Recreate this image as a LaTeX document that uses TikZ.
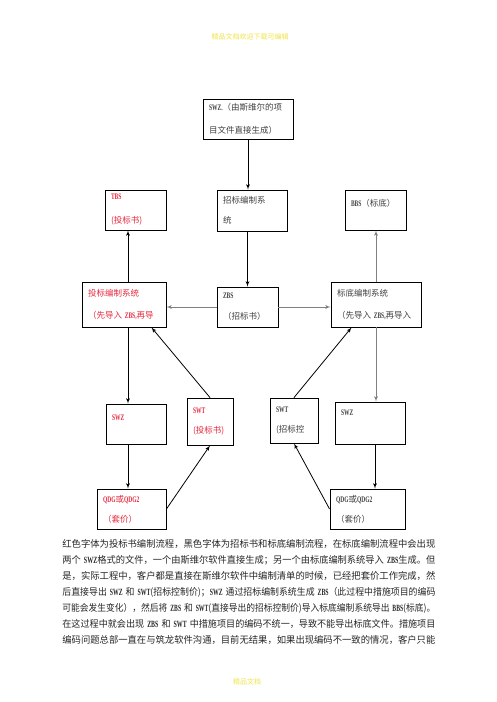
\documentclass[tikz,border=0pt]{standalone}
\usepackage{fontspec}
\setmainfont{Noto Sans CJK SC}
\newfontfamily\enfont{Liberation Serif}
\usetikzlibrary{arrows}

\definecolor{tbred}{RGB}{230,40,60}
\definecolor{hdyellow}{RGB}{238,228,70}
\newcommand{\enw}[1]{\scalebox{0.65}[1]{\enfont\bfseries #1}}
\newcommand{\boxfont}{\fontsize{8.5}{11}\selectfont}
\newcommand{\fitline}[1]{\resizebox{373pt}{\height}{#1}}

\begin{document}
\begin{tikzpicture}[
                        x=1pt, y=-1pt,
                        ->,
                        >=latex',
                        line width=0.8pt
                    ]
                    \tikzstyle{box}=[draw=black,line width=0.9pt,rectangle,inner xsep=6pt,inner ysep=0pt,align=left,font=\boxfont]
                    \tikzstyle{redbox}=[box,text=tbred]
                    \tikzstyle{blackbox}=[box,text=black!75]

                    \useasboundingbox (0,0) rectangle (496,702);

                    \node[font=\fontsize{7}{8}\selectfont,text=hdyellow] (header) at (250,37) {精品文档欢迎下载可编辑};

                    \node[blackbox,text width=78pt,minimum height=40pt] (swztop) at (248,119)   {\enw{SWZ.}（由斯维尔的项\\[12pt]目文件直接生成）};
                    \node[redbox,  text width=49pt,minimum height=40pt] (tbs)    at (135.5,210) {\enw{TBS}\\[13pt](投标书)};
                    \node[blackbox,text width=58pt,minimum height=41pt] (zbsys)  at (252,210.5) {招标编制系\\[9pt]统};
                    \node[blackbox,text width=49pt,minimum height=40pt] (bbs)    at (375.5,210) {\mbox{\enw{BBS}（标底）}\\[3pt]\mbox{}};
                    \node[redbox,  text width=72pt,minimum height=45pt] (tosys)  at (124,304.5) {投标编制系统\\[11pt]\mbox{（先导入 \enw{ZBS,}再导}};
                    \node[blackbox,text width=49pt,minimum height=40pt] (zbs)    at (247.5,307) {\enw{ZBS}\\[10pt]（招标书）};
                    \node[blackbox,text width=78pt,minimum height=45pt] (bdsys)  at (376,304.5) {标底编制系统\\[11pt]\mbox{（先导入 \enw{ZBS,}再导入}};
                    \node[redbox,  text width=48pt,minimum height=40pt] (swzL)   at (136,424)   {\enw{SWZ}\\[1pt]\mbox{}};
                    \node[redbox,  text width=34pt,minimum height=47pt] (swtL)   at (210,421.5) {\enw{SWT}\\[9pt](投标书)};
                    \node[blackbox,text width=36pt,minimum height=45pt] (swtR)   at (294,420.5) {\enw{SWT}\\[9pt]\mbox{(招标控}};
                    \node[blackbox,text width=58pt,minimum height=42pt] (swzR)   at (370,423)   {\enw{SWZ}\\[9pt]\mbox{}};
                    \node[redbox,  text width=57pt,minimum height=40pt] (qdgL)   at (131.5,509) {\mbox{\enw{QDG}或\enw{QDG2}}\\[9pt]（套价）};
                    \node[blackbox,text width=63pt,minimum height=40pt] (qdgR)   at (367.5,509) {\mbox{\enw{QDG}或\enw{QDG2}}\\[9pt]（套价）};

                    \path
                    (swztop.south)                edge           (swztop.south |- zbsys.north)
                    (zbs.north |- zbsys.south)    edge           (zbs.north)
                    (zbs.west)                    edge [gray]    (zbs.west -| tosys.east)
                    (zbs.east)                    edge [gray]    (zbs.east -| bdsys.west)
                    ([xshift=4pt]tosys.north)     edge           ([xshift=4pt]tosys.north |- tbs.south)
                    (bdsys.north)                 edge [gray]    (bdsys.north |- bbs.south)
                    ([xshift=4pt]tosys.south)     edge           ([xshift=4pt]tosys.south |- swzL.north)
                    ([xshift=-8pt]swzL.south)     edge           ([xshift=-8pt]swzL.south |- qdgL.north)
                    (qdgL.east)                   edge           (swtL.south)
                    (swtL.north)                  edge           ([xshift=-15pt]tosys.south east)
                    (swtR.north)                  edge           ([xshift=21pt]bdsys.south west)
                    (qdgR.west)                   edge           (swtR.south)
                    (bdsys.south)                 edge [gray]    (bdsys.south |- swzR.north)
                    ([xshift=5pt]swzR.south)      edge           ([xshift=5pt]swzR.south |- qdgR.north) ;

                    \node[anchor=north west,inner sep=0pt,text width=373pt,align=left,text=black!85,
                          font=\fontsize{9.5}{16}\selectfont] (note) at (62,539) {%
                        \fitline{红色字体为投标书编制流程，黑色字体为招标书和标底编制流程，在标底编制流程中会出现}\\
                        \fitline{两个 \enw{SWZ}格式的文件，一个由斯维尔软件直接生成；另一个由标底编制系统导入 \enw{ZBS}生成。但}\\
                        \fitline{是，实际工程中，客户都是直接在斯维尔软件中编制清单的时候，已经把套价工作完成，然}\\
                        \fitline{后直接导出 \enw{SWZ} 和 \enw{SWT}(招标控制价)；\enw{SWZ} 通过招标编制系统生成 \enw{ZBS}（此过程中措施项目的编码}\\
                        \fitline{可能会发生变化），然后将 \enw{ZBS} 和 \enw{SWT}(直接导出的招标控制价)导入标底编制系统导出 \enw{BBS}(标底)。}\\
                        \fitline{在这过程中就会出现 \enw{ZBS} 和 \enw{SWT} 中措施项目的编码不统一，导致不能导出标底文件。措施项目}\\
                        \fitline{编码问题总部一直在与筑龙软件沟通，目前无结果，如果出现编码不一致的情况，客户只能}};

                    \node[font=\fontsize{7}{8}\selectfont,text=hdyellow] (footer) at (247,682) {精品文档};

                \end{tikzpicture}
\end{document}
